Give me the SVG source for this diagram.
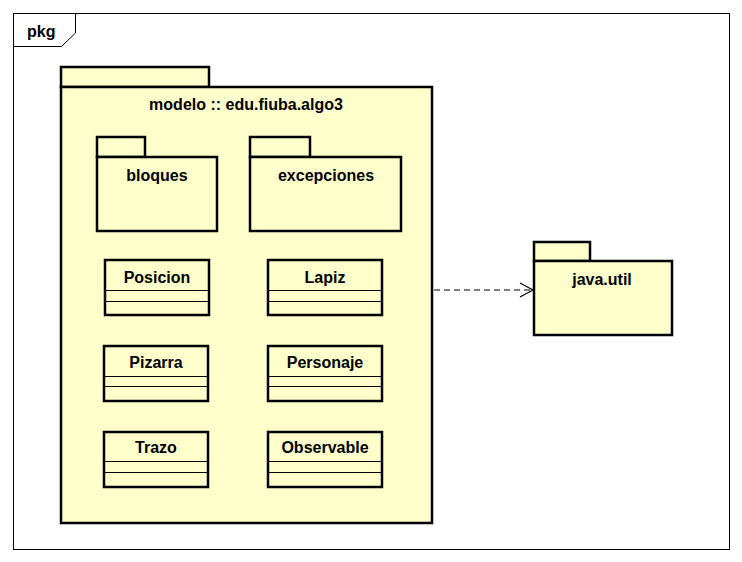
<svg xmlns="http://www.w3.org/2000/svg" width="742" height="562" viewBox="0 0 742 562">
<defs>
<style>
.pk{fill:#FFFFCC;stroke:#000;stroke-width:2.5}
.cl{fill:#FFFFCC;stroke:#000;stroke-width:2.5}
.dv{stroke:#000;stroke-width:1}
.t{font-family:"Liberation Sans",Arial,sans-serif;font-size:16px;font-weight:bold;fill:#000;text-anchor:middle}
</style>
<marker id="open" markerWidth="16" markerHeight="16" refX="14" refY="8" orient="auto" markerUnits="userSpaceOnUse">
<path d="M1,1 L14,8 L1,15" fill="none" stroke="#000" stroke-width="1.2"/>
</marker>
</defs>
<rect width="742" height="562" fill="#fff"/>
<g id="frame">
<rect x="13.5" y="13.5" width="716" height="536" fill="none" stroke="#000" stroke-width="1"/>
<path d="M13.5,46.5 L61.5,46.5 L75.5,33 L75.5,13.5" fill="none" stroke="#000" stroke-width="1"/>
<text x="27" y="37" class="t" style="text-anchor:start">pkg</text>
</g>
<g id="modelo">
<rect class="pk" x="61" y="67" width="148" height="20"/>
<rect class="pk" x="61" y="87" width="371" height="436"/>
<text class="t" x="246" y="110">modelo :: edu.fiuba.algo3</text>
</g>
<g id="bloques">
<rect class="pk" x="97" y="137" width="48" height="20"/>
<rect class="pk" x="97" y="157" width="120" height="74"/>
<text class="t" x="157" y="181">bloques</text>
</g>
<g id="excepciones">
<rect class="pk" x="250" y="137" width="60" height="20"/>
<rect class="pk" x="250" y="157" width="151" height="74"/>
<text class="t" x="326" y="181">excepciones</text>
</g>
<g id="Posicion">
<rect class="cl" x="105" y="260" width="104" height="55"/>
<line class="dv" x1="105" y1="290.5" x2="209" y2="290.5"/>
<line class="dv" x1="105" y1="301.5" x2="209" y2="301.5"/>
<text class="t" x="157" y="283">Posicion</text>
</g>
<g id="Lapiz">
<rect class="cl" x="268" y="260" width="114" height="55"/>
<line class="dv" x1="268" y1="290.5" x2="382" y2="290.5"/>
<line class="dv" x1="268" y1="301.5" x2="382" y2="301.5"/>
<text class="t" x="325" y="283">Lapiz</text>
</g>
<g id="Pizarra">
<rect class="cl" x="104" y="346" width="104" height="55"/>
<line class="dv" x1="104" y1="376.5" x2="208" y2="376.5"/>
<line class="dv" x1="104" y1="386.5" x2="208" y2="386.5"/>
<text class="t" x="156" y="368">Pizarra</text>
</g>
<g id="Personaje">
<rect class="cl" x="268" y="346" width="114" height="55"/>
<line class="dv" x1="268" y1="376.5" x2="382" y2="376.5"/>
<line class="dv" x1="268" y1="386.5" x2="382" y2="386.5"/>
<text class="t" x="325" y="368">Personaje</text>
</g>
<g id="Trazo">
<rect class="cl" x="104" y="432" width="104" height="55"/>
<line class="dv" x1="104" y1="461.5" x2="208" y2="461.5"/>
<line class="dv" x1="104" y1="472.5" x2="208" y2="472.5"/>
<text class="t" x="156" y="453">Trazo</text>
</g>
<g id="Observable">
<rect class="cl" x="268" y="432" width="114" height="55"/>
<line class="dv" x1="268" y1="461.5" x2="382" y2="461.5"/>
<line class="dv" x1="268" y1="472.5" x2="382" y2="472.5"/>
<text class="t" x="325" y="453">Observable</text>
</g>
<g id="java.util">
<rect class="pk" x="534" y="242" width="56" height="19"/>
<rect class="pk" x="534" y="261" width="138" height="74"/>
<text class="t" x="602" y="285">java.util</text>
</g>
<g id="connectors">
<line x1="434" y1="290" x2="533" y2="290" stroke="#000" stroke-width="1" stroke-dasharray="6,4" marker-end="url(#open)"/>
</g>
</svg>
